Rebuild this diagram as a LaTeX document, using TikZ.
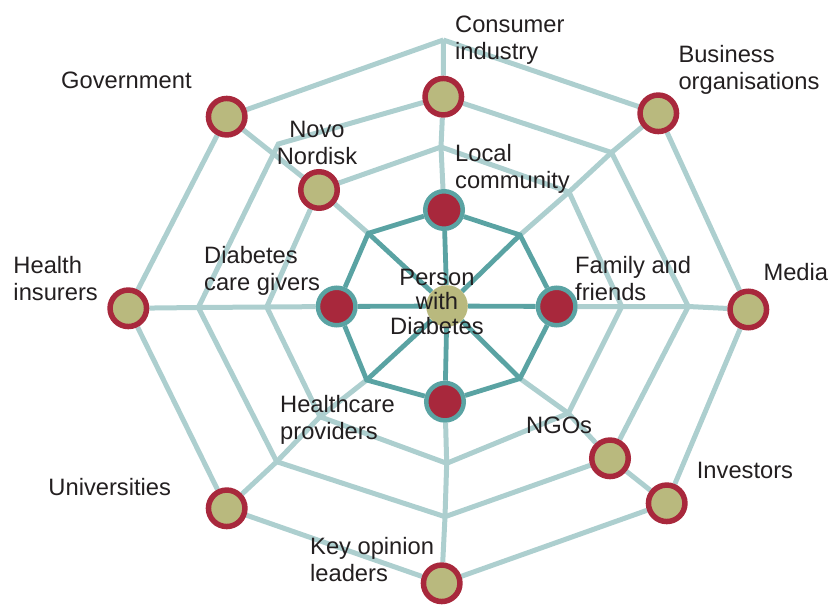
\documentclass[tikz,border=0pt]{standalone}
\usepackage{fontspec}
\setmainfont{Liberation Sans}
\usetikzlibrary{backgrounds}
\definecolor{lightteal}{HTML}{ADCFCF}
\definecolor{darkteal}{HTML}{5AA3A3}
\definecolor{nodered}{HTML}{A8283C}
\definecolor{olivefill}{HTML}{B9B97E}
\definecolor{textgray}{HTML}{231F20}
\begin{document}
\begin{tikzpicture}[x=1bp,y=-1bp,
  outernode/.style={circle, draw=nodered, line width=5.5bp, fill=olivefill, minimum size=36.5bp, inner sep=0pt},
  innernode/.style={circle, draw=darkteal, line width=4.5bp, fill=nodered, minimum size=37.5bp, inner sep=0pt},
  hubnode/.style={circle, fill=olivefill, minimum size=41.6bp, inner sep=0pt},
  lightline/.style={draw=lightteal, line width=5bp, line join=miter},
  darkline/.style={draw=darkteal, line width=4.8bp, line join=miter},
  lbl/.style={font=\fontsize{23.7bp}{27bp}\selectfont, text=textgray, inner sep=0pt, align=left, anchor=base west},
]
\useasboundingbox (0,0) rectangle (839,605);

% hub and inner ring
\node[hubnode] (hub) at (447,306) {};
\node[innernode] (dt) at (444,210) {};
\node[innernode] (dr) at (556.7,306.5) {};
\node[innernode] (db) at (445,401.7) {};
\node[innernode] (dl) at (336.7,306.5) {};
\coordinate (dtr) at (520,235);
\coordinate (dbr) at (520,378.5);
\coordinate (dbl) at (366.7,380);
\coordinate (dtl) at (368.3,233.3);

% ring 2
\coordinate (r2t) at (441,147);
\coordinate (r2tr) at (569,192);
\coordinate (r2r) at (621.7,306.5);
\coordinate (r2br) at (568.3,413.3);
\coordinate (r2b) at (446.7,463.3);
\coordinate (r2bl) at (320,416.7);
\coordinate (r2l) at (266.7,307);
\node[outernode] (novo) at (319,190) {};

% ring 3
\node[outernode] (consumer) at (443.3,96.7) {};
\coordinate (r3tr) at (611.5,152.5);
\coordinate (r3r) at (688.3,306.5);
\node[outernode] (ngo) at (610,458.3) {};
\coordinate (r3b) at (445,516.7);
\coordinate (r3bl) at (276.7,461.7);
\coordinate (r3l) at (198.3,307.5);
\coordinate (r3tl) at (278.3,144);

% ring 4
\coordinate (r4t) at (443.3,40);
\node[outernode] (business) at (658.3,113.3) {};
\node[outernode] (media) at (748.3,309.5) {};
\node[outernode] (investors) at (666.7,503.3) {};
\node[outernode] (kol) at (441.7,583.3) {};
\node[outernode] (univ) at (226.7,508.3) {};
\node[outernode] (health) at (128.3,308.3) {};
\node[outernode] (gov) at (226.7,116.7) {};

\begin{scope}[on background layer]
  % light spokes
  \draw[lightline] (dt) -- (r2t) -- (consumer) -- (r4t);
  \draw[lightline] (dtr) -- (r2tr) -- (r3tr) -- (business);
  \draw[lightline] (dr) -- (r2r) -- (r3r) -- (media);
  \draw[lightline] (dbr) -- (r2br) -- (ngo) -- (investors);
  \draw[lightline] (db) -- (r2b) -- (r3b) -- (kol);
  \draw[lightline] (dbl) -- (r2bl) -- (r3bl) -- (univ);
  \draw[lightline] (dl) -- (r2l) -- (r3l) -- (health);
  \draw[lightline] (dtl) -- (novo) -- (gov);
  % light rings
  \draw[lightline] (r2t) -- (r2tr) -- (r2r) -- (r2br) -- (r2b) -- (r2bl) -- (r2l) -- (novo) -- (r2t);
  \draw[lightline] (consumer) -- (r3tr) -- (r3r) -- (ngo) -- (r3b) -- (r3bl) -- (r3l) -- (r3tl) -- (consumer);
  \draw[lightline] (r4t) -- (business) -- (media) -- (investors) -- (kol) -- (univ) -- (health) -- (gov) -- (r4t);
  % dark spokes and ring
  \foreach \v in {dt,dtr,dr,dbr,db,dbl,dl,dtl} \draw[darkline] (hub) -- (\v);
  \draw[darkline] (dt) -- (dtr) -- (dr) -- (dbr) -- (db) -- (dbl) -- (dl) -- (dtl) -- (dt);
\end{scope}

% labels (anchor base = baseline of the last line)
\node[lbl] (lconsumer) at (455,59.3) {Consumer\\industry};
\node[lbl] (llocal) at (455,188.3) {Local\\community};
\node[lbl] (lbusiness) at (678.3,89.3) {Business\\organisations};
\node[lbl] (lgov) at (61,88.3) {Government};
\node[lbl, align=center, anchor=base] (lnovo) at (317,165) {Novo\\Nordisk};
\node[lbl] (lcare) at (204,290) {Diabetes\\care givers};
\node[lbl] (lhealth) at (13.3,300) {Health\\insurers};
\node[lbl, align=center, anchor=base, font=\fontsize{23.7bp}{24.2bp}\selectfont] (lperson) at (437,334) {Person\\with\\Diabetes};
\node[lbl] (lfamily) at (575,300) {Family and\\friends};
\node[lbl] (lmedia) at (763.3,280) {Media};
\node[lbl] (lngo) at (526,433.3) {NGOs};
\node[lbl] (linv) at (696.7,478.3) {Investors};
\node[lbl] (lhc) at (280,439.3) {Healthcare\\providers};
\node[lbl] (luni) at (48.3,495.7) {Universities};
\node[lbl] (lkol) at (310,581.7) {Key opinion\\leaders};
\end{tikzpicture}
\end{document}
